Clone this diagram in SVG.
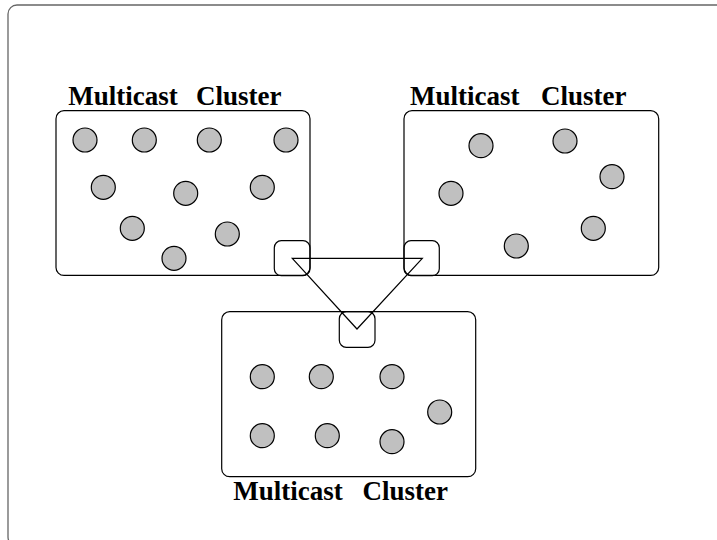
<svg xmlns="http://www.w3.org/2000/svg" width="717" height="540" viewBox="0 0 717 540">
<style>
.frame{fill:none;stroke:#666;stroke-width:1.3}
.cluster{fill:#fff;stroke:#000;stroke-width:1.2}
.gw{fill:none;stroke:#000;stroke-width:1.2}
.host{fill:#c0c0c0;stroke:#000;stroke-width:1.2}
.conn{fill:none;stroke:#000;stroke-width:1.2}
.label{font-family:"Liberation Serif","Times New Roman",serif;font-weight:bold;font-size:27px;fill:#000}
</style>
<rect width="717" height="540" fill="#fff"/>
<rect class="frame" x="8" y="5" width="730" height="541" rx="9"/>
<g id="cluster1">
<rect class="cluster" x="56" y="110.7" width="254" height="164.7" rx="8"/>
<circle class="host" cx="85" cy="140" r="12"/>
<circle class="host" cx="144.3" cy="140" r="12"/>
<circle class="host" cx="209.3" cy="140" r="12"/>
<circle class="host" cx="286" cy="140" r="12"/>
<circle class="host" cx="103.3" cy="187.3" r="12"/>
<circle class="host" cx="185.7" cy="193.3" r="12"/>
<circle class="host" cx="262.3" cy="187.3" r="12"/>
<circle class="host" cx="132.3" cy="228.3" r="12"/>
<circle class="host" cx="227.3" cy="234" r="12"/>
<circle class="host" cx="174" cy="258.3" r="12"/>
<rect class="gw" x="274.3" y="240.7" width="35.7" height="35" rx="7"/>
<text class="label" x="68.3" y="105">Multicast <tspan x="196">Cluster</tspan></text>
</g>
<g id="cluster2">
<rect class="cluster" x="404" y="110.7" width="254.7" height="164.7" rx="8"/>
<circle class="host" cx="481" cy="145.7" r="12"/>
<circle class="host" cx="565" cy="141" r="12"/>
<circle class="host" cx="612" cy="176.7" r="12"/>
<circle class="host" cx="451" cy="193.3" r="12"/>
<circle class="host" cx="593.3" cy="228.3" r="12"/>
<circle class="host" cx="516.3" cy="246" r="12"/>
<rect class="gw" x="404" y="240.7" width="35.3" height="35" rx="7"/>
<text class="label" x="410" y="105">Multicast <tspan x="541">Cluster</tspan></text>
</g>
<g id="cluster3">
<rect class="cluster" x="221.7" y="311.7" width="254" height="165" rx="8"/>
<circle class="host" cx="262.3" cy="376.7" r="12"/>
<circle class="host" cx="321.3" cy="376.7" r="12"/>
<circle class="host" cx="392" cy="376.7" r="12"/>
<circle class="host" cx="439.7" cy="412" r="12"/>
<circle class="host" cx="262.3" cy="435.7" r="12"/>
<circle class="host" cx="327.3" cy="435.7" r="12"/>
<circle class="host" cx="392" cy="441.7" r="12"/>
<rect class="gw" x="339.3" y="311.7" width="35.7" height="35.6" rx="7"/>
<text class="label" x="233.3" y="500">Multicast <tspan x="362.5">Cluster</tspan></text>
</g>
<g id="connectors">
<polygon class="conn" points="292.3,258.3 422.3,258.3 357,329"/>
</g>
</svg>
